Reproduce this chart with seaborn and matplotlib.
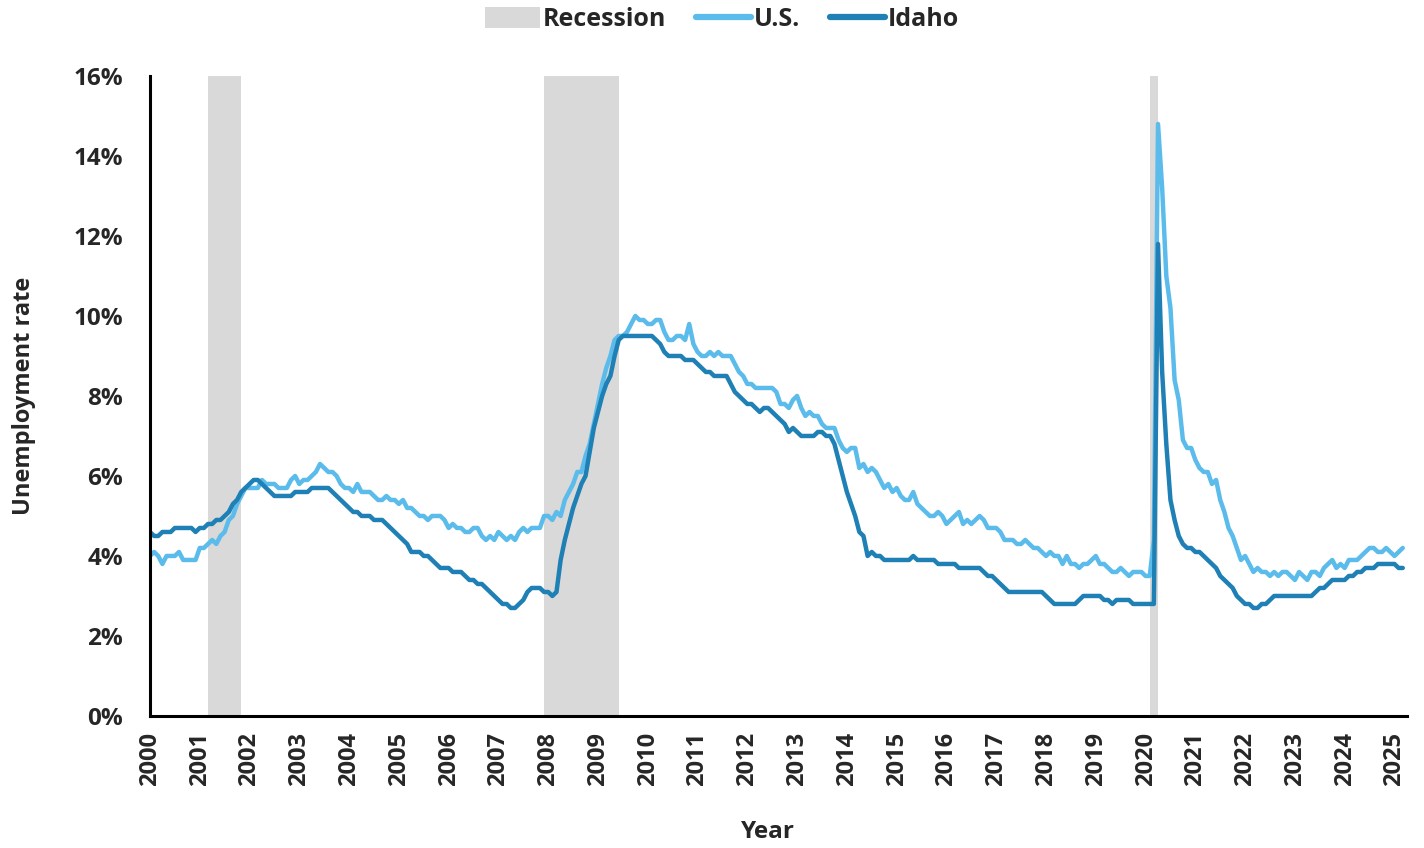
import numpy as np
import pandas as pd
import matplotlib
matplotlib.use("Agg")
import matplotlib.pyplot as plt
import seaborn as sns
from matplotlib.patches import Patch
from matplotlib.lines import Line2D
from matplotlib.ticker import FuncFormatter

# Taux de chômage mensuels (désaisonnalisés), janv. 2000 -> mars 2025
us_rate = [
    4.0, 4.1, 4.0, 3.8, 4.0, 4.0, 4.0, 4.1, 3.9, 3.9, 3.9, 3.9,  # 2000
    4.2, 4.2, 4.3, 4.4, 4.3, 4.5, 4.6, 4.9, 5.0, 5.3, 5.5, 5.7,  # 2001
    5.7, 5.7, 5.7, 5.9, 5.8, 5.8, 5.8, 5.7, 5.7, 5.7, 5.9, 6.0,  # 2002
    5.8, 5.9, 5.9, 6.0, 6.1, 6.3, 6.2, 6.1, 6.1, 6.0, 5.8, 5.7,  # 2003
    5.7, 5.6, 5.8, 5.6, 5.6, 5.6, 5.5, 5.4, 5.4, 5.5, 5.4, 5.4,  # 2004
    5.3, 5.4, 5.2, 5.2, 5.1, 5.0, 5.0, 4.9, 5.0, 5.0, 5.0, 4.9,  # 2005
    4.7, 4.8, 4.7, 4.7, 4.6, 4.6, 4.7, 4.7, 4.5, 4.4, 4.5, 4.4,  # 2006
    4.6, 4.5, 4.4, 4.5, 4.4, 4.6, 4.7, 4.6, 4.7, 4.7, 4.7, 5.0,  # 2007
    5.0, 4.9, 5.1, 5.0, 5.4, 5.6, 5.8, 6.1, 6.1, 6.5, 6.8, 7.3,  # 2008
    7.8, 8.3, 8.7, 9.0, 9.4, 9.5, 9.5, 9.6, 9.8, 10.0, 9.9, 9.9,  # 2009
    9.8, 9.8, 9.9, 9.9, 9.6, 9.4, 9.4, 9.5, 9.5, 9.4, 9.8, 9.3,  # 2010
    9.1, 9.0, 9.0, 9.1, 9.0, 9.1, 9.0, 9.0, 9.0, 8.8, 8.6, 8.5,  # 2011
    8.3, 8.3, 8.2, 8.2, 8.2, 8.2, 8.2, 8.1, 7.8, 7.8, 7.7, 7.9,  # 2012
    8.0, 7.7, 7.5, 7.6, 7.5, 7.5, 7.3, 7.2, 7.2, 7.2, 6.9, 6.7,  # 2013
    6.6, 6.7, 6.7, 6.2, 6.3, 6.1, 6.2, 6.1, 5.9, 5.7, 5.8, 5.6,  # 2014
    5.7, 5.5, 5.4, 5.4, 5.6, 5.3, 5.2, 5.1, 5.0, 5.0, 5.1, 5.0,  # 2015
    4.8, 4.9, 5.0, 5.1, 4.8, 4.9, 4.8, 4.9, 5.0, 4.9, 4.7, 4.7,  # 2016
    4.7, 4.6, 4.4, 4.4, 4.4, 4.3, 4.3, 4.4, 4.3, 4.2, 4.2, 4.1,  # 2017
    4.0, 4.1, 4.0, 4.0, 3.8, 4.0, 3.8, 3.8, 3.7, 3.8, 3.8, 3.9,  # 2018
    4.0, 3.8, 3.8, 3.7, 3.6, 3.6, 3.7, 3.6, 3.5, 3.6, 3.6, 3.6,  # 2019
    3.5, 3.5, 4.4, 14.8, 13.2, 11.0, 10.2, 8.4, 7.9, 6.9, 6.7, 6.7,  # 2020
    6.4, 6.2, 6.1, 6.1, 5.8, 5.9, 5.4, 5.1, 4.7, 4.5, 4.2, 3.9,  # 2021
    4.0, 3.8, 3.6, 3.7, 3.6, 3.6, 3.5, 3.6, 3.5, 3.6, 3.6, 3.5,  # 2022
    3.4, 3.6, 3.5, 3.4, 3.6, 3.6, 3.5, 3.7, 3.8, 3.9, 3.7, 3.8,  # 2023
    3.7, 3.9, 3.9, 3.9, 4.0, 4.1, 4.2, 4.2, 4.1, 4.1, 4.2, 4.1,  # 2024
    4.0, 4.1, 4.2,                                               # 2025
]

idaho_rate = [
    4.6, 4.5, 4.5, 4.6, 4.6, 4.6, 4.7, 4.7, 4.7, 4.7, 4.7, 4.6,  # 2000
    4.7, 4.7, 4.8, 4.8, 4.9, 4.9, 5.0, 5.1, 5.3, 5.4, 5.6, 5.7,  # 2001
    5.8, 5.9, 5.9, 5.8, 5.7, 5.6, 5.5, 5.5, 5.5, 5.5, 5.5, 5.6,  # 2002
    5.6, 5.6, 5.6, 5.7, 5.7, 5.7, 5.7, 5.7, 5.6, 5.5, 5.4, 5.3,  # 2003
    5.2, 5.1, 5.1, 5.0, 5.0, 5.0, 4.9, 4.9, 4.9, 4.8, 4.7, 4.6,  # 2004
    4.5, 4.4, 4.3, 4.1, 4.1, 4.1, 4.0, 4.0, 3.9, 3.8, 3.7, 3.7,  # 2005
    3.7, 3.6, 3.6, 3.6, 3.5, 3.4, 3.4, 3.3, 3.3, 3.2, 3.1, 3.0,  # 2006
    2.9, 2.8, 2.8, 2.7, 2.7, 2.8, 2.9, 3.1, 3.2, 3.2, 3.2, 3.1,  # 2007
    3.1, 3.0, 3.1, 3.9, 4.4, 4.8, 5.2, 5.5, 5.8, 6.0, 6.6, 7.2,  # 2008
    7.6, 8.0, 8.3, 8.5, 9.0, 9.4, 9.5, 9.5, 9.5, 9.5, 9.5, 9.5,  # 2009
    9.5, 9.5, 9.4, 9.3, 9.1, 9.0, 9.0, 9.0, 9.0, 8.9, 8.9, 8.9,  # 2010
    8.8, 8.7, 8.6, 8.6, 8.5, 8.5, 8.5, 8.5, 8.3, 8.1, 8.0, 7.9,  # 2011
    7.8, 7.8, 7.7, 7.6, 7.7, 7.7, 7.6, 7.5, 7.4, 7.3, 7.1, 7.2,  # 2012
    7.1, 7.0, 7.0, 7.0, 7.0, 7.1, 7.1, 7.0, 7.0, 6.8, 6.4, 6.0,  # 2013
    5.6, 5.3, 5.0, 4.6, 4.5, 4.0, 4.1, 4.0, 4.0, 3.9, 3.9, 3.9,  # 2014
    3.9, 3.9, 3.9, 3.9, 4.0, 3.9, 3.9, 3.9, 3.9, 3.9, 3.8, 3.8,  # 2015
    3.8, 3.8, 3.8, 3.7, 3.7, 3.7, 3.7, 3.7, 3.7, 3.6, 3.5, 3.5,  # 2016
    3.4, 3.3, 3.2, 3.1, 3.1, 3.1, 3.1, 3.1, 3.1, 3.1, 3.1, 3.1,  # 2017
    3.0, 2.9, 2.8, 2.8, 2.8, 2.8, 2.8, 2.8, 2.9, 3.0, 3.0, 3.0,  # 2018
    3.0, 3.0, 2.9, 2.9, 2.8, 2.9, 2.9, 2.9, 2.9, 2.8, 2.8, 2.8,  # 2019
    2.8, 2.8, 2.8, 11.8, 8.6, 6.8, 5.4, 4.9, 4.5, 4.3, 4.2, 4.2,  # 2020
    4.1, 4.1, 4.0, 3.9, 3.8, 3.7, 3.5, 3.4, 3.3, 3.2, 3.0, 2.9,  # 2021
    2.8, 2.8, 2.7, 2.7, 2.8, 2.8, 2.9, 3.0, 3.0, 3.0, 3.0, 3.0,  # 2022
    3.0, 3.0, 3.0, 3.0, 3.0, 3.1, 3.2, 3.2, 3.3, 3.4, 3.4, 3.4,  # 2023
    3.4, 3.5, 3.5, 3.6, 3.6, 3.7, 3.7, 3.7, 3.8, 3.8, 3.8, 3.8,  # 2024
    3.8, 3.7, 3.7,                                               # 2025
]

# Récessions (mois de début / fin)
recession_start = ["2001-03", "2007-12", "2020-02"]
recession_end = ["2001-11", "2009-06", "2020-04"]

years = list(range(2000, 2026))

def to_decimal(ym):
    y, m = ym.split("-")
    return int(y) + (int(m) - 1) / 12

months = pd.date_range("2000-01-01", periods=len(us_rate), freq="MS")
dec_year = months.year + (months.month - 1) / 12

df = pd.DataFrame({
    "year": np.concatenate([dec_year, dec_year]),
    "rate": us_rate + idaho_rate,
    "zone": ["U.S."] * len(us_rate) + ["Idaho"] * len(idaho_rate),
})

# Style
sns.set_style("white")
plt.rcParams["font.family"] = ["Open Sans", "DejaVu Sans"]
plt.rcParams["font.weight"] = "bold"

col_us = "#5BBCEC"
col_id = "#1F80B5"
col_rec = "#D9D9D9"

fig = plt.figure(figsize=(14.24, 8.48), dpi=100)
ax = fig.add_axes([0.1053, 0.1557, 0.8827, 0.7547])

for s, e in zip(recession_start, recession_end):
    ax.axvspan(to_decimal(s), to_decimal(e), color=col_rec, lw=0, zorder=0)

sns.lineplot(data=df, x="year", y="rate", hue="zone",
             palette={"U.S.": col_us, "Idaho": col_id},
             hue_order=["U.S.", "Idaho"], linewidth=3.2, ax=ax, legend=False)

ax.set_xlim(2000, 2025.25)
ax.set_ylim(0, 16)
ax.set_xticks(years)
ax.set_xticklabels([str(y) for y in years], rotation=90, fontsize=17, fontweight="bold")
ax.set_yticks(range(0, 17, 2))
ax.yaxis.set_major_formatter(FuncFormatter(lambda v, _: f"{v:.0f}%"))
for lab in ax.get_yticklabels():
    lab.set_fontsize(17.5)
    lab.set_fontweight("bold")

ax.tick_params(axis="both", direction="out", length=7.5, width=2, color="black")
ax.tick_params(axis="y", pad=12)
ax.tick_params(axis="x", pad=4)
for side in ["top", "right"]:
    ax.spines[side].set_visible(False)
for side in ["left", "bottom"]:
    ax.spines[side].set_color("black")
    ax.spines[side].set_linewidth(2.2)

ax.set_xlabel("Year", fontsize=17.5, fontweight="bold")
ax.set_ylabel("Unemployment rate", fontsize=17, fontweight="bold")
ax.xaxis.set_label_coords(0.492, -0.163)
ax.yaxis.set_label_coords(-0.091, 0.5)

handles = [
    Patch(facecolor=col_rec, edgecolor="none", label="Recession"),
    Line2D([0], [0], color=col_us, lw=4.5, solid_capstyle="round", label="U.S."),
    Line2D([0], [0], color=col_id, lw=4.5, solid_capstyle="round", label="Idaho"),
]
fig.legend(handles=handles, loc="upper center", bbox_to_anchor=(0.507, 1.018), ncol=3,
           frameon=False, prop={"weight": "bold", "size": 18},
           handlelength=2.2, handleheight=0.9, handletextpad=0.1, columnspacing=1.2)

fig.savefig("out.png", dpi=100)
